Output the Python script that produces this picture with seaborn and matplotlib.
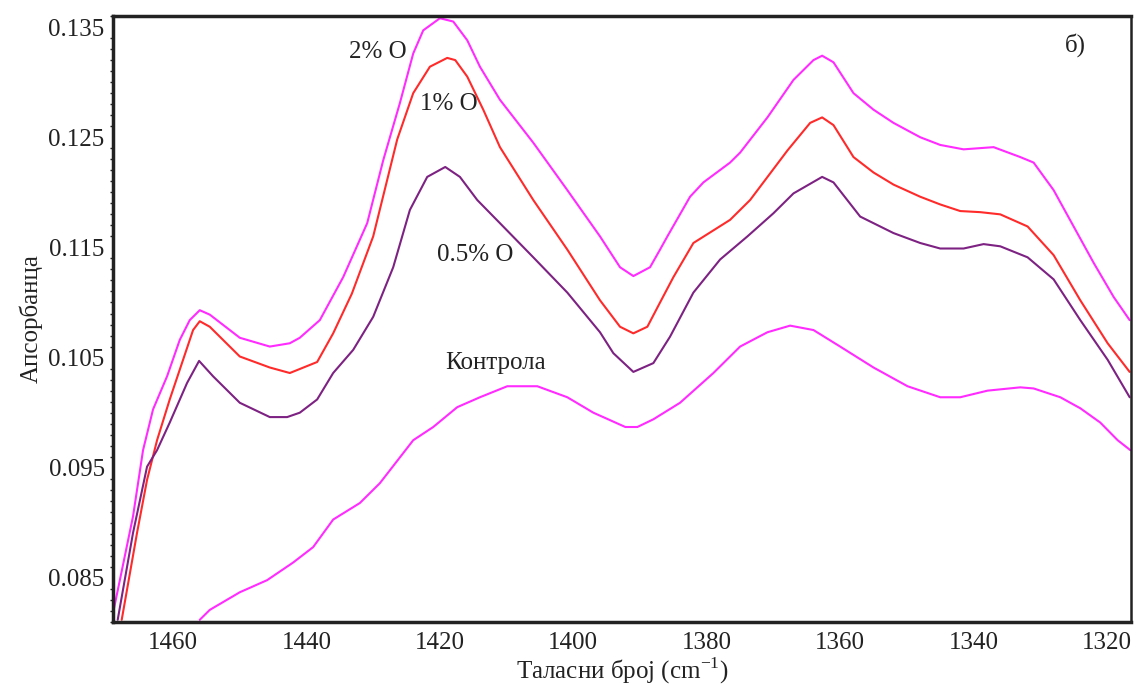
import numpy as np
import pandas as pd
import matplotlib
matplotlib.use('Agg')
import matplotlib.pyplot as plt
from matplotlib.ticker import MultipleLocator
import seaborn as sns

# FTIR spectra, 1468-1316 cm-1
wn_2 = [1468.9, 1466.0, 1464.5, 1463.0, 1460.9, 1459.0, 1457.5, 1456.0, 1454.5, 1450.0,
        1445.5, 1442.5, 1441.0, 1438.0, 1434.5, 1430.9, 1428.5, 1426.0, 1424.0, 1422.5,
        1420.0, 1418.0, 1415.9, 1414.0, 1411.0, 1406.0, 1400.9, 1396.0, 1393.0, 1391.0,
        1388.5, 1387.0, 1385.9, 1382.5, 1380.5, 1376.5, 1375.0, 1370.9, 1367.0, 1364.0,
        1362.7, 1361.0, 1358.0, 1355.0, 1352.0, 1348.0, 1345.0, 1341.5, 1337.0, 1333.0,
        1331.0, 1328.0, 1325.0, 1322.0, 1319.0, 1316.6]
abs_2 = [0.0821, 0.0906, 0.0966, 0.1003, 0.1033, 0.1066, 0.1084, 0.1093, 0.1089, 0.1068,
         0.1060, 0.1063, 0.1068, 0.1084, 0.1123, 0.1172, 0.1229, 0.1281, 0.1326, 0.1347,
         0.1358, 0.1355, 0.1338, 0.1314, 0.1284, 0.1245, 0.1202, 0.1160, 0.1132, 0.1124,
         0.1132, 0.1148, 0.1160, 0.1196, 0.1209, 0.1227, 0.1236, 0.1268, 0.1302, 0.1320,
         0.1324, 0.1318, 0.1290, 0.1275, 0.1263, 0.1250, 0.1243, 0.1239, 0.1241, 0.1232,
         0.1227, 0.1202, 0.1169, 0.1136, 0.1105, 0.1084]

wn_1 = [1467.7, 1465.4, 1463.9, 1462.4, 1460.5, 1458.5, 1457.0, 1456.0, 1454.5, 1450.0,
        1445.5, 1442.5, 1438.4, 1436.0, 1433.2, 1430.0, 1426.4, 1424.0, 1421.5, 1418.9,
        1417.7, 1415.9, 1413.5, 1411.0, 1406.0, 1400.9, 1396.0, 1393.0, 1391.0, 1388.9,
        1387.0, 1385.0, 1382.0, 1376.5, 1373.5, 1367.9, 1364.5, 1362.7, 1361.0, 1358.0,
        1355.0, 1352.0, 1348.0, 1345.0, 1342.0, 1339.0, 1336.0, 1331.9, 1328.0, 1324.0,
        1319.9, 1316.6]
abs_1 = [0.0812, 0.0891, 0.0939, 0.0975, 0.1012, 0.1048, 0.1075, 0.1083, 0.1078, 0.1051,
         0.1041, 0.1036, 0.1046, 0.1072, 0.1108, 0.1160, 0.1248, 0.1290, 0.1314, 0.1322,
         0.1320, 0.1305, 0.1275, 0.1241, 0.1193, 0.1148, 0.1102, 0.1078, 0.1072, 0.1078,
         0.1100, 0.1123, 0.1154, 0.1175, 0.1193, 0.1238, 0.1263, 0.1268, 0.1261, 0.1232,
         0.1218, 0.1207, 0.1196, 0.1189, 0.1183, 0.1182, 0.1180, 0.1169, 0.1143, 0.1102,
         0.1063, 0.1037]

wn_05 = [1468.3, 1466.0, 1463.9, 1462.4, 1460.5, 1457.9, 1456.1, 1454.0, 1450.0, 1445.5,
         1442.9, 1441.0, 1438.4, 1436.0, 1433.0, 1430.0, 1427.0, 1424.5, 1421.9, 1419.2,
         1417.0, 1414.4, 1411.0, 1406.0, 1400.9, 1396.0, 1394.0, 1391.0, 1388.0, 1385.5,
         1382.0, 1378.0, 1373.9, 1370.0, 1367.0, 1362.7, 1361.0, 1357.0, 1352.0, 1348.0,
         1345.0, 1341.5, 1338.5, 1336.0, 1331.9, 1328.0, 1324.0, 1319.9, 1316.6]
abs_05 = [0.0812, 0.0891, 0.0951, 0.0966, 0.0991, 0.1027, 0.1047, 0.1033, 0.1009, 0.0996,
          0.0996, 0.1000, 0.1012, 0.1036, 0.1057, 0.1087, 0.1132, 0.1184, 0.1214, 0.1223,
          0.1214, 0.1193, 0.1172, 0.1141, 0.1109, 0.1073, 0.1054, 0.1037, 0.1045, 0.1069,
          0.1109, 0.1139, 0.1160, 0.1181, 0.1199, 0.1214, 0.1209, 0.1178, 0.1163, 0.1154,
          0.1149, 0.1149, 0.1153, 0.1151, 0.1141, 0.1121, 0.1084, 0.1048, 0.1014]

wn_ctrl = [1456.0, 1454.5, 1450.0, 1445.9, 1442.0, 1439.0, 1436.0, 1432.0, 1429.0, 1424.0,
           1421.0, 1417.4, 1414.0, 1409.9, 1405.4, 1400.9, 1397.0, 1392.2, 1390.4, 1388.0,
           1384.0, 1379.0, 1375.0, 1370.9, 1367.5, 1364.0, 1360.0, 1355.0, 1349.9, 1345.0,
           1342.0, 1337.9, 1333.0, 1331.0, 1327.0, 1324.0, 1321.0, 1318.4, 1316.5]
abs_ctrl = [0.0812, 0.0821, 0.0837, 0.0848, 0.0864, 0.0878, 0.0903, 0.0918, 0.0936, 0.0975,
            0.0987, 0.1005, 0.1014, 0.1024, 0.1024, 0.1014, 0.1000, 0.0987, 0.0987, 0.0994,
            0.1009, 0.1036, 0.1060, 0.1073, 0.1079, 0.1075, 0.1060, 0.1041, 0.1024, 0.1014,
            0.1014, 0.1020, 0.1023, 0.1022, 0.1014, 0.1004, 0.0991, 0.0975, 0.0966]

series_names = ['2% O', '1% O', '0.5% O', 'Контрола']
series_colors = ['#ff2bff', '#ff2a2a', '#7d2283', '#ff2bff']

# label anchor points (wavenumber, absorbance)
label_wn = [1429.3, 1418.6, 1414.7, 1411.7]
label_abs = [0.1327, 0.1280, 0.1143, 0.1045]


def build_frame():
    """Long-format table for seaborn."""
    parts = []
    for name, wn, ab in zip(series_names, [wn_2, wn_1, wn_05, wn_ctrl],
                            [abs_2, abs_1, abs_05, abs_ctrl]):
        parts.append(pd.DataFrame({'wn': wn, 'abs': ab, 'sample': name}))
    return pd.concat(parts, ignore_index=True)


def main():
    sns.set_theme(style='white')
    plt.rcParams['font.family'] = ['Liberation Serif', 'DejaVu Serif']
    plt.rcParams['mathtext.fontset'] = 'custom'
    plt.rcParams['mathtext.rm'] = 'Liberation Serif'

    df = build_frame()

    fig = plt.figure(figsize=(11.36, 6.88), dpi=100)
    ax = fig.add_axes([0.0995, 0.0959, 0.8961, 0.8808])

    sns.lineplot(data=df, x='wn', y='abs', hue='sample', units='sample',
                 estimator=None, sort=False, palette=dict(zip(series_names, series_colors)),
                 linewidth=1.5, legend=False, ax=ax)
    for line in ax.lines:
        line.set_solid_joinstyle('round')

    ax.set_xlim(1469, 1316.4)
    ax.set_ylim(0.0810, 0.1360)
    ax.xaxis.set_major_locator(MultipleLocator(20))
    ax.xaxis.set_minor_locator(MultipleLocator(5))
    ax.yaxis.set_minor_locator(MultipleLocator(0.001))
    ax.set_yticks(np.arange(0.085, 0.136, 0.01))
    ax.set_yticklabels(['0.085', '0.095', '0.105', '0.115', '0.125', '0.135'])

    ax.tick_params(axis='x', which='major', direction='in', length=6, width=1.5,
                   labelsize=18, pad=7, colors='#222222')
    ax.tick_params(axis='x', which='minor', direction='in', length=4, width=1.2,
                   colors='#222222')
    ax.tick_params(axis='y', which='major', direction='out', length=4, width=1.5,
                   labelsize=18, pad=2, colors='#222222')
    ax.tick_params(axis='y', which='minor', direction='out', length=2.5, width=1.0,
                   colors='#222222', left=True)

    for side in ['left', 'bottom', 'top']:
        ax.spines[side].set_linewidth(2.5)
        ax.spines[side].set_color('#222222')
    ax.spines['right'].set_linewidth(1.8)
    ax.spines['right'].set_color('#222222')

    ax.set_xlabel(r'Таласни број (cm$^{\mathregular{-1}}$)', fontsize=18,
                  color='#222222', labelpad=1)
    ax.set_ylabel('Апсорбанца', fontsize=18, color='#222222', labelpad=4)

    # curve labels
    for name, lx, ly in zip(series_names, label_wn, label_abs):
        ax.text(lx, ly, name, fontsize=18, ha='center', va='center', color='#222222')
    ax.text(1324.7, 0.1334, 'б)', fontsize=18, ha='center', va='center', color='#222222')

    fig.savefig('out.png', dpi=100)
    plt.close(fig)


if __name__ == '__main__':
    main()
